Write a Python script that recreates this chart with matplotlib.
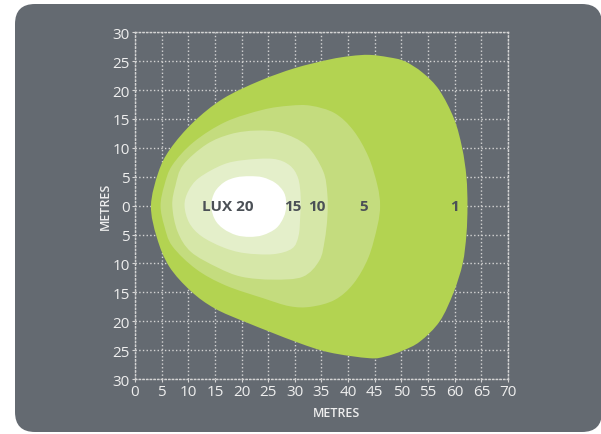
import numpy as np
import matplotlib
matplotlib.use("Agg")
import matplotlib.pyplot as plt
from matplotlib.path import Path
from matplotlib.patches import PathPatch, FancyBboxPatch

plt.rcParams['font.family'] = ['Open Sans', 'DejaVu Sans']

# isolux outlines (metres), going round each shape
lux1_x = [3.0, 4.4, 6.6, 10.9, 16.5, 23.4, 30.0, 36.5, 40.5, 44.0, 47.5, 50.6, 54.0, 57.1, 59.9, 61.4, 62.2, 62.4,
          62.2, 61.5, 59.8, 57.2, 53.5, 50.2, 47.0, 44.0, 36.5, 30.3, 20.9, 15.0, 10.5, 6.4, 4.1]
lux1_y = [0.0, 5.8, 9.8, 14.4, 18.5, 21.6, 23.8, 25.3, 25.9, 26.1, 25.7, 25.0, 23.0, 20.0, 15.0, 10.0, 5.0, 0.0,
          -5.0, -10.0, -15.0, -20.0, -23.5, -25.1, -26.1, -26.4, -25.4, -23.6, -20.2, -17.8, -14.8, -10.5, -5.5]

lux5_x = [4.8, 5.5, 7.0, 11.0, 17.0, 24.0, 29.0, 33.0, 37.5, 41.0, 43.8, 45.5, 46.0,
          45.5, 43.8, 41.0, 37.5, 33.0, 29.0, 24.0, 17.0, 11.5, 7.0, 5.5]
lux5_y = [0.0, 3.5, 7.0, 11.0, 14.5, 16.6, 17.3, 17.3, 16.0, 13.0, 8.5, 3.5, 0.0,
          -3.5, -9.0, -13.5, -16.3, -17.5, -17.4, -16.0, -13.8, -11.0, -7.0, -3.5]

lux10_x = [7.0, 7.6, 9.0, 13.4, 18.0, 22.8, 27.5, 32.2, 35.3, 36.1,
           36.1, 35.6, 34.6, 31.5, 25.9, 20.0, 15.5, 10.5, 8.0]
lux10_y = [0.0, 3.5, 7.0, 10.6, 12.4, 13.0, 12.6, 10.4, 6.0, 2.0,
           -2.0, -6.0, -9.5, -12.3, -12.8, -12.3, -10.7, -8.0, -4.5]

lux15_x = [9.3, 10.0, 12.0, 16.5, 20.5, 25.9, 29.0, 30.6, 31.1,
           31.0, 30.7, 29.5, 25.9, 20.5, 16.5, 12.5, 10.2]
lux15_y = [0.0, 2.5, 4.8, 7.1, 7.9, 8.1, 7.0, 4.8, 1.5,
           -2.0, -5.2, -7.4, -8.4, -8.2, -7.2, -5.3, -3.0]

lux20_x = [14.3, 15.0, 16.8, 19.0, 21.5, 24.0, 26.4, 28.0, 28.4, 27.9, 26.5, 24.0, 21.5, 19.0, 16.6, 15.0]
lux20_y = [0.0, 2.4, 4.1, 4.9, 5.1, 4.9, 3.9, 2.2, 0.0, -2.0, -3.9, -5.1, -5.4, -5.1, -4.0, -2.4]

zone_colors = ['#b3d351', '#c4dc7e', '#d6e7a8', '#e4efca', '#ffffff']

label_text = ['LUX 20', '15', '10', '5', '1']
label_x = [17.5, 29.6, 34.1, 43.0, 59.9]

xticks = list(range(0, 71, 5))
yticks = list(range(30, -31, -5))
ytick_labels = ['30', '25', '20', '15', '10', '5', '0', '5', '10', '15', '20', '25', '30']


def smooth_path(xs, ys):
    # closed catmull-rom curve through the points, as bezier segments
    p = np.column_stack([xs, ys])
    n = len(p)
    verts = [p[0]]
    codes = [Path.MOVETO]
    for i in range(n):
        p0, p1, p2, p3 = p[i - 1], p[i], p[(i + 1) % n], p[(i + 2) % n]
        verts += [p1 + (p2 - p0) / 6, p2 - (p3 - p1) / 6, p2]
        codes += [Path.CURVE4] * 3
    return Path(verts, codes)


fig = plt.figure(figsize=(6.01, 4.35), dpi=100)
fig.patch.set_facecolor('white')
bg = FancyBboxPatch((15, 2), 587, 428, boxstyle="round,pad=0,rounding_size=20",
                    transform=None, facecolor='#646a71', edgecolor='none', zorder=-10)
fig.patches.append(bg)

ax = fig.add_axes([0.2246, 0.1264, 0.6206, 0.797])
ax.set_facecolor('none')

shapes = [(lux1_x, lux1_y), (lux5_x, lux5_y), (lux10_x, lux10_y), (lux15_x, lux15_y), (lux20_x, lux20_y)]
for (xs, ys), c in zip(shapes, zone_colors):
    ax.add_patch(PathPatch(smooth_path(xs, ys), facecolor=c, edgecolor='none', zorder=2))

for t, x in zip(label_text, label_x):
    ax.text(x, 0, t, ha='center', va='center', fontsize=11, fontweight='bold',
            color='#4b5056', zorder=3)

ax.set_xlim(0, 70)
ax.set_ylim(-30, 30)
ax.set_xticks(xticks)
ax.set_yticks(yticks)
ax.set_yticklabels(ytick_labels)
ax.grid(True, color='#d4d4d4', linestyle=':', linewidth=1)
ax.set_axisbelow(True)
for s in ax.spines.values():
    s.set_color('#d4d4d4')
    s.set_linestyle(':')
    s.set_linewidth(1)
    s.set_zorder(0)
ax.tick_params(colors='#d4d4d4', length=2, width=0.8, labelsize=11, pad=1.5,
               labelcolor='#eeeeee')

ax.set_xlabel('METRES', fontsize=9, fontweight='semibold', color='#eeeeee')
ax.xaxis.set_label_coords(0.539, -0.078)
ax.set_ylabel('METRES', fontsize=9, fontweight='semibold', color='#eeeeee')
ax.yaxis.set_label_coords(-0.062, 0.5)

fig.savefig('out.png', dpi=100)
